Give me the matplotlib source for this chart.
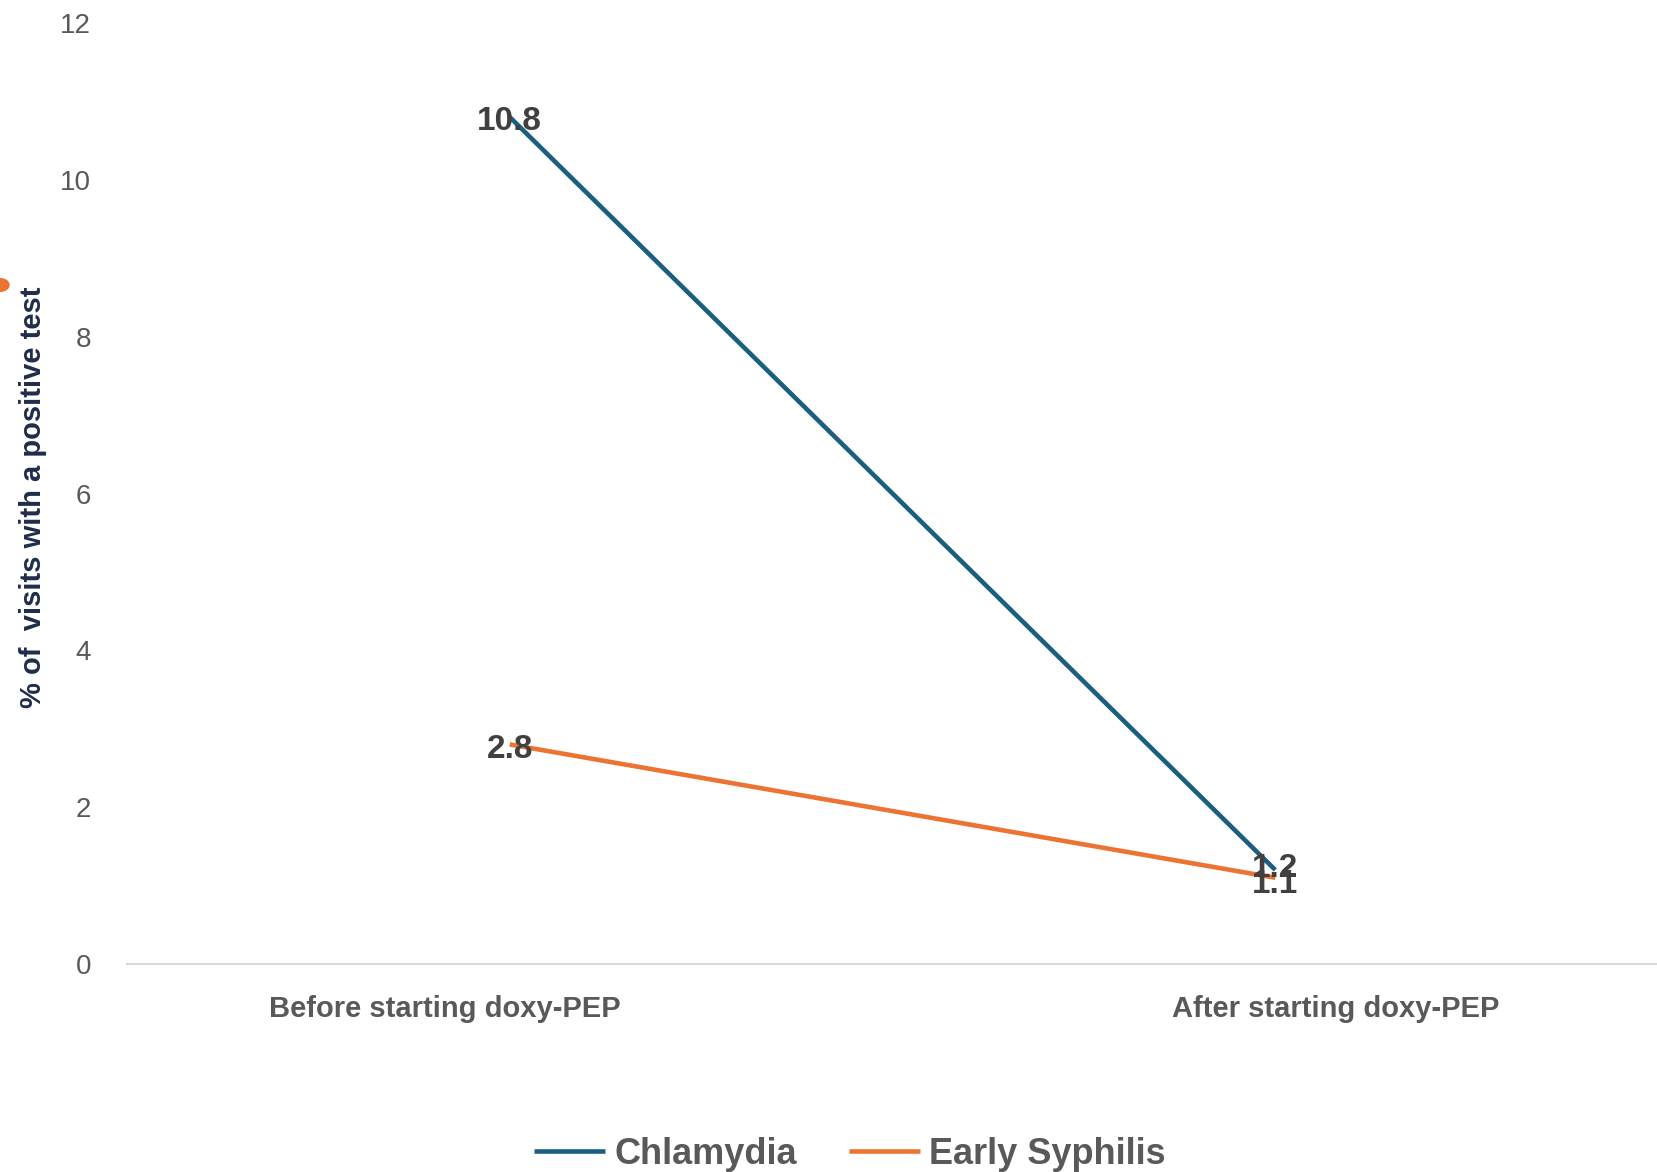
import matplotlib
matplotlib.use("Agg")
import matplotlib.pyplot as plt
from matplotlib.transforms import ScaledTranslation
from matplotlib.patches import Circle

categories = ["Before starting doxy-PEP", "After starting doxy-PEP"]
chlamydia = [10.8, 1.2]
syphilis = [2.8, 1.1]
series_names = ["Chlamydia", "Early Syphilis"]
yticks = [0, 2, 4, 6, 8, 10, 12]

plt.rcParams["font.family"] = ["Liberation Sans", "DejaVu Sans"]

W, H = 1658, 1172
fig = plt.figure(figsize=(W/100, H/100), dpi=100)
ax = fig.add_axes([127/W, 1-964/H, 1-127/W, (964-23)/H])

blue = "#1a5f80"
orange = "#ec7331"
x = [0, 1]
ax.plot(x, chlamydia, color=blue, lw=3.3, solid_capstyle="butt", label=series_names[0])
ax.plot(x, syphilis, color=orange, lw=3.3, solid_capstyle="butt", label=series_names[1])

lab_col = "#404040"
offs = {(0, 0): -0.05, (0, 1): 0.02, (1, 0): -0.06, (1, 1): -0.08}
for si, vals in enumerate([chlamydia, syphilis]):
    for xi, v in zip(x, vals):
        ax.text(xi, v + offs[(si, xi)], f"{v:.1f}", ha="center", va="center",
                fontsize=24, fontweight="bold", color=lab_col)

ax.set_xlim(-0.5, 1.5)
ax.set_ylim(0, 12)
ax.set_yticks(yticks)
ax.set_yticklabels([str(t) for t in yticks], fontsize=20, color="#595959")
ax.set_xticks(x)
ax.set_xticklabels(categories, fontsize=21, fontweight="bold", color="#595959")
ax.tick_params(axis="both", length=0)
ax.tick_params(axis="y", pad=26)
ax.tick_params(axis="x", pad=22)
shifts = [-65, 60]
for lbl, s in zip(ax.get_xticklabels(), shifts):
    lbl.set_transform(lbl.get_transform() + ScaledTranslation(s/100, 0, fig.dpi_scale_trans))
for sp in ["top", "right", "left"]:
    ax.spines[sp].set_visible(False)
ax.spines["bottom"].set_color("#d9d9d9")
ax.spines["bottom"].set_linewidth(1.5)

fig.text(33/W, 1-497/H, "% of  visits with a positive test", rotation=90, ha="center", va="center",
         fontsize=21, fontweight="bold", color="#1f2d4a")

leg = fig.legend(loc="center", bbox_to_anchor=(850/W, 1-1154/H), ncol=2, frameon=False,
                 prop={"size": 26, "weight": "bold"}, handlelength=1.95, handletextpad=0.27,
                 columnspacing=1.45)
for t in leg.get_texts():
    t.set_color("#595959")

fig.patches.append(Circle((0, 1-285/H), 9/W, transform=fig.transFigure, color=orange))

fig.savefig("out.png", dpi=100)
